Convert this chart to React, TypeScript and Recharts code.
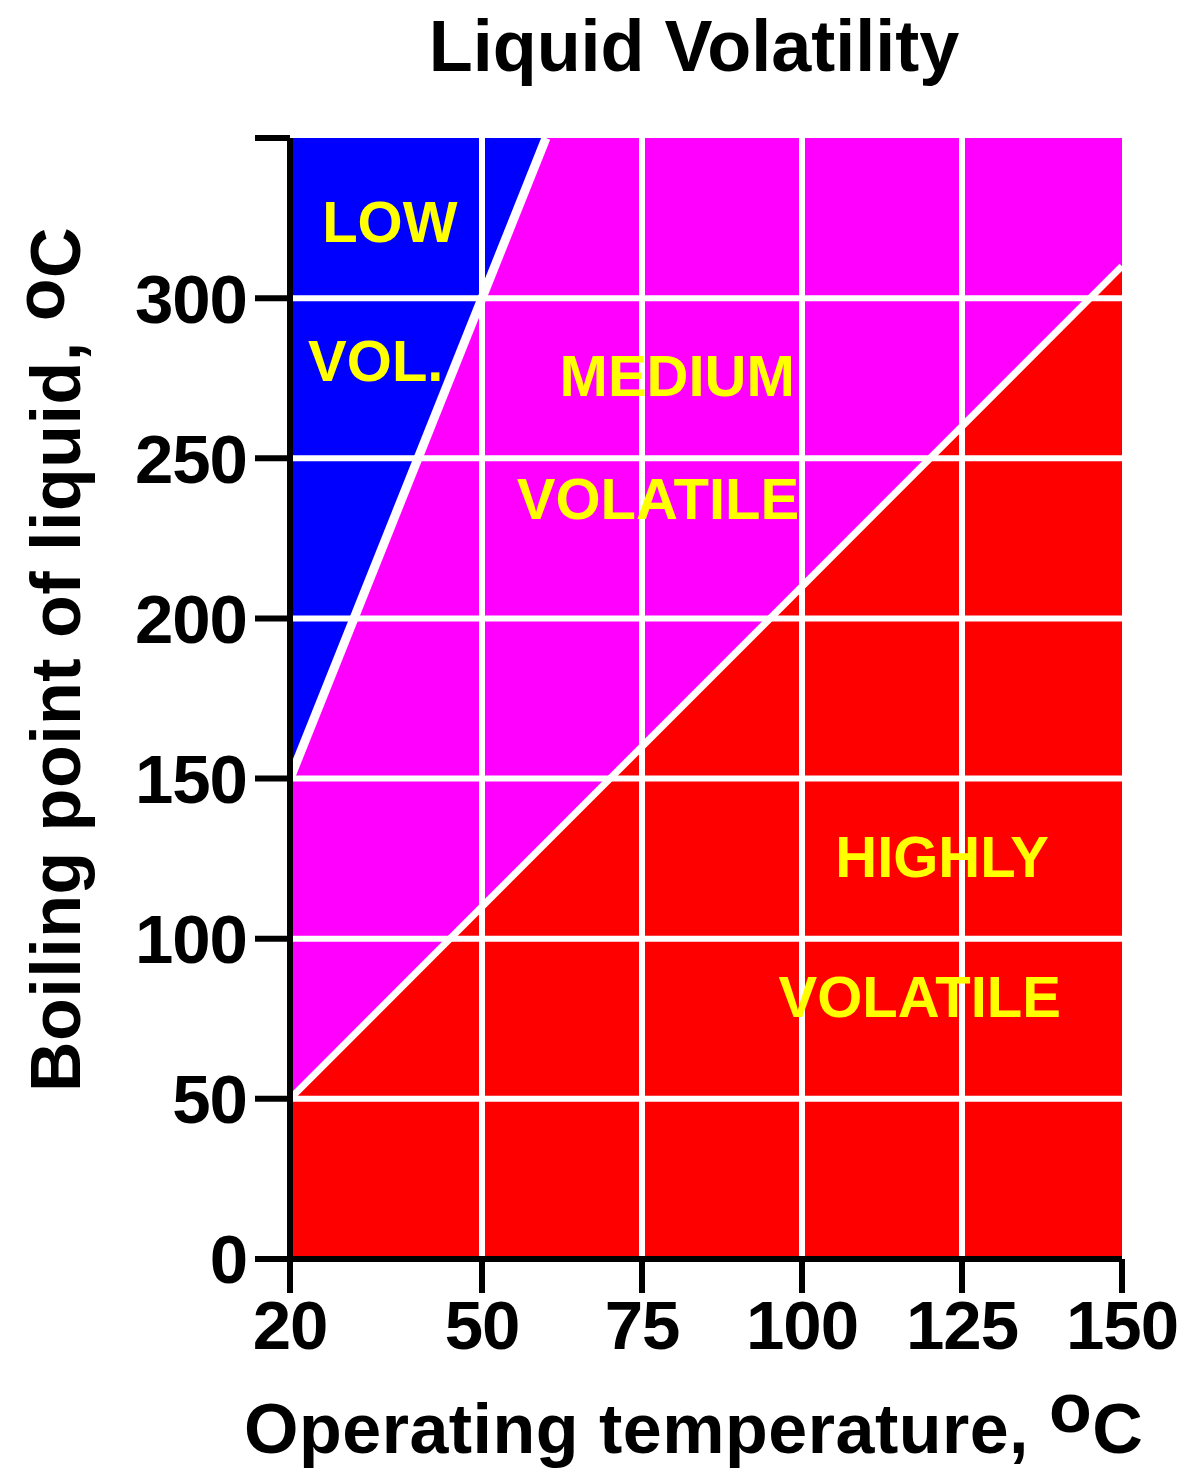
import React from 'react';
import { ComposedChart, Area, Line, XAxis, YAxis, ReferenceLine, ReferenceDot } from 'recharts';

const FONT = '"Liberation Sans", Arial, sans-serif';

const COLORS = {
  low: '#0000FF',
  medium: '#FF00FF',
  high: '#FF0000',
  text: '#FFFF00',
  grid: '#FFFFFF',
};

// axis ticks
const xTicks = [20, 50, 75, 100, 125, 150];
const yTicks = [0, 50, 100, 150, 200, 250, 300, 350];
const gridX = [50, 75, 100, 125];
const gridY = [50, 100, 150, 200, 250, 300];

// region boundaries
const edgeX = [20, 60, 150];
const topEdge = [350, 350, 350];
const lowMedEdge = [150, 350, 350]; // blue / magenta
const medHighEdge = [50, 130, 310]; // magenta / red

// region captions (data coords)
const captions = [
  { text: 'LOW', x: 35.6, y: 324 },
  { text: 'VOL.', x: 33.4, y: 280.5 },
  { text: 'MEDIUM', x: 80.5, y: 276 },
  { text: 'VOLATILE', x: 77.5, y: 237.5 },
  { text: 'HIGHLY', x: 121.9, y: 125.6 },
  { text: 'VOLATILE', x: 118.4, y: 82 },
];

const table = edgeX.map((x, i) => ({
  x,
  top: topEdge[i],
  lowMed: lowMedEdge[i],
  medHigh: medHighEdge[i],
}));
const lowMedLine = table.slice(0, 2);

const tickStyle = { fill: '#000', fontSize: 69, fontWeight: 'bold', fontFamily: FONT, letterSpacing: -1 };
const axisStroke = { stroke: '#000', strokeWidth: 6 };

export default function App() {
  return (
    <div style={{ position: 'absolute', left: 0, top: 0, width: 1185, height: 1468, background: '#fff' }}>
      <ComposedChart
        width={1185}
        height={1468}
        data={table}
        margin={{ top: 138, right: 63, bottom: 0, left: 0 }}
      >
        <XAxis
          type="number"
          dataKey="x"
          domain={[20, 150]}
          ticks={xTicks}
          interval={0}
          height={209}
          tickSize={34}
          tickMargin={7}
          axisLine={axisStroke}
          tickLine={axisStroke}
          tick={tickStyle}
        />
        <YAxis
          type="number"
          domain={[0, 350]}
          ticks={yTicks}
          interval={0}
          width={290}
          tickSize={35}
          tickMargin={8}
          axisLine={axisStroke}
          tickLine={axisStroke}
          tick={tickStyle}
          tickFormatter={(v: number) => (v === 350 ? '' : String(v))}
        />
        <Area dataKey="top" type="linear" fill={COLORS.low} fillOpacity={1} stroke="none" dot={false} activeDot={false} isAnimationActive={false} />
        <Area dataKey="lowMed" type="linear" fill={COLORS.medium} fillOpacity={1} stroke="none" dot={false} activeDot={false} isAnimationActive={false} />
        <Area dataKey="medHigh" type="linear" fill={COLORS.high} fillOpacity={1} stroke="none" dot={false} activeDot={false} isAnimationActive={false} />
        <Line data={lowMedLine} dataKey="lowMed" type="linear" stroke={COLORS.grid} strokeWidth={9} dot={false} activeDot={false} isAnimationActive={false} />
        <Line dataKey="medHigh" type="linear" stroke={COLORS.grid} strokeWidth={7} dot={false} activeDot={false} isAnimationActive={false} />
        {gridY.map((v) => (
          <ReferenceLine key={'y' + v} y={v} stroke={COLORS.grid} strokeWidth={6} />
        ))}
        {gridX.map((v) => (
          <ReferenceLine key={'x' + v} x={v} stroke={COLORS.grid} strokeWidth={6} />
        ))}
        {captions.map((c, i) => (
          <ReferenceDot
            key={i}
            x={c.x}
            y={c.y}
            r={1}
            fill="none"
            stroke="none"
            label={{ value: c.text, position: 'center', fill: COLORS.text, fontSize: 58, fontWeight: 'bold', fontFamily: FONT }}
          />
        ))}
      </ComposedChart>
      <svg
        width={1185}
        height={1468}
        style={{ position: 'absolute', left: 0, top: 0, pointerEvents: 'none' }}
        fontFamily={FONT}
        fontWeight="bold"
      >
        <text x={694} y={71} textAnchor="middle" fontSize={72}>
          Liquid Volatility
        </text>
        <text x={244} y={1453} fontSize={70} letterSpacing={0.5}>
          Operating temperature,{' '}
          <tspan dy={-21}>o</tspan>
          <tspan dy={21}>C</tspan>
        </text>
        <text transform="translate(80,1092) rotate(-90)" fontSize={70} letterSpacing={0.5}>
          Boiling point of liquid,{' '}
          <tspan dy={-16}>o</tspan>
          <tspan dy={16}>C</tspan>
        </text>
      </svg>
    </div>
  );
}
